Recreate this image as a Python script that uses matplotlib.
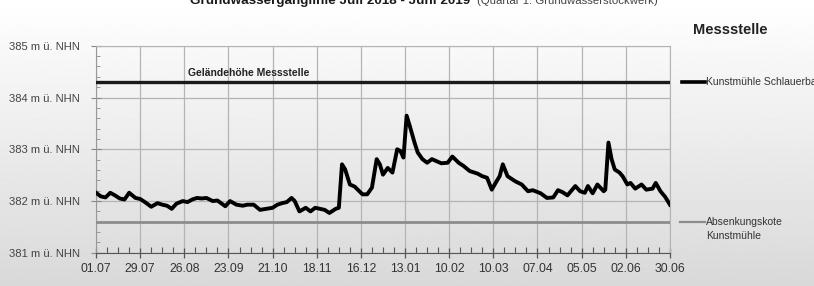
import numpy as np
import matplotlib
matplotlib.use("Agg")
import matplotlib.pyplot as plt
import matplotlib.dates as mdates
from matplotlib.ticker import FixedLocator, MultipleLocator, FuncFormatter

plt.rcParams['font.family'] = ['Liberation Sans', 'DejaVu Sans']

# Tage ab 01.07.2018 und Grundwasserstand (m ü. NHN)
tage = [0, 3, 6, 9, 12, 15, 18, 21, 25, 28,
        31, 35, 39, 42, 45, 48, 51, 55, 58, 61,
        64, 67, 70, 74, 77, 82, 85, 89, 93, 96,
        100, 104, 108, 112, 115, 118, 121, 124, 126, 129,
        133, 136, 139, 142, 145, 148, 152, 154, 156, 158,
        161, 164, 169, 172, 175, 178, 180, 182, 185, 188,
        191, 193, 195, 197, 199, 202, 204, 207, 210, 213,
        216, 219, 223, 226, 230, 233, 237, 242, 245, 248,
        251, 254, 256, 258, 261, 266, 270, 274, 277, 282,
        286, 290, 293, 296, 299, 304, 307, 310, 312, 315,
        318, 322, 323, 325, 327, 329, 332, 334, 337, 339,
        342, 346, 349, 353, 355, 358, 361, 364]
pegel = [382.16, 382.09, 382.07, 382.16, 382.11, 382.05, 382.03, 382.16, 382.06, 382.04,
         381.98, 381.89, 381.96, 381.93, 381.91, 381.85, 381.95, 382.00, 381.98, 382.03,
         382.06, 382.05, 382.06, 382.00, 382.01, 381.90, 382.00, 381.93, 381.91, 381.93,
         381.93, 381.83, 381.85, 381.87, 381.93, 381.96, 381.98, 382.06, 382.00, 381.80,
         381.87, 381.80, 381.87, 381.85, 381.83, 381.77, 381.85, 381.87, 382.71, 382.61,
         382.32, 382.28, 382.13, 382.13, 382.26, 382.81, 382.71, 382.51, 382.64, 382.55,
         383.00, 382.97, 382.84, 383.65, 383.45, 383.13, 382.94, 382.81, 382.74, 382.81,
         382.77, 382.73, 382.74, 382.86, 382.74, 382.68, 382.58, 382.53, 382.48, 382.45,
         382.22, 382.38, 382.48, 382.71, 382.48, 382.38, 382.32, 382.19, 382.21, 382.15,
         382.06, 382.07, 382.21, 382.17, 382.11, 382.29, 382.19, 382.16, 382.29, 382.15,
         382.32, 382.19, 382.22, 383.13, 382.81, 382.61, 382.55, 382.48, 382.32, 382.35,
         382.24, 382.32, 382.22, 382.24, 382.35, 382.19, 382.08, 381.93]
gelaendehoehe = 384.3
absenkungskote = 381.6
start = np.datetime64('2018-07-01')

datum = start + np.array(tage).astype('timedelta64[D]')

fig = plt.figure(figsize=(8.14, 2.86), dpi=100)

# Hintergrund mit Verlauf
bg = fig.add_axes([0, 0, 1, 1], zorder=-10)
verlauf = np.linspace(1.0, 0.85, 200).reshape(-1, 1)
bg.imshow(verlauf, cmap='gray', vmin=0, vmax=1, aspect='auto', extent=[0, 1, 0, 1])
bg.axis('off')

ax = fig.add_axes([0.118, 0.116, 0.705, 0.724])
ax.set_facecolor('none')

ax.plot(datum, pegel, color='black', lw=2.8, solid_joinstyle='round', zorder=4)
ax.axhline(gelaendehoehe, color='#1a1a1a', lw=2.4, zorder=3)
ax.axhline(absenkungskote, color='#8c8c8c', lw=2.0, zorder=3)

ax.set_ylim(381, 385)
ax.set_xlim(start, start + np.timedelta64(364, 'D'))

haupt = start + np.arange(0, 365, 28).astype('timedelta64[D]')
neben = start + np.arange(0, 365, 7).astype('timedelta64[D]')
ax.xaxis.set_major_locator(FixedLocator(mdates.date2num(haupt)))
ax.xaxis.set_minor_locator(FixedLocator(mdates.date2num(neben)))
ax.xaxis.set_major_formatter(mdates.DateFormatter('%d.%m'))
ax.yaxis.set_major_locator(MultipleLocator(1))
ax.yaxis.set_minor_locator(MultipleLocator(0.2))
ax.yaxis.set_major_formatter(FuncFormatter(lambda v, p: '%d m ü. NHN' % v))

ax.grid(True, which='major', color='#b4b4b4', lw=0.9)
ax.tick_params(axis='x', which='major', direction='inout', length=7, width=0.9,
               color='#555555', labelsize=8.8, labelcolor='#333333', pad=4)
ax.tick_params(axis='x', which='minor', direction='in', length=4, width=0.8,
               color='#555555')
ax.tick_params(axis='y', which='major', direction='inout', length=7, width=0.8,
               color='#888888', labelsize=8.1, labelcolor='#444444', pad=8)
ax.tick_params(axis='y', which='minor', direction='in', length=3, width=0.7,
               color='#999999')

for s in ['top', 'right']:
    ax.spines[s].set_color('#b4b4b4')
ax.spines['left'].set_color('#999999')
ax.spines['bottom'].set_color('#555555')

ax.text(0.16, gelaendehoehe + 0.07, 'Geländehöhe Messstelle',
        transform=ax.get_yaxis_transform(),
        fontsize=7.5, fontweight='bold', color='#222222', va='bottom')

# Titel (oben abgeschnitten)
fig.text(0.233, 0.986, 'Grundwasserganglinie Juli 2018 - Juni 2019', fontsize=9.7,
         fontweight='bold', color='#1a1a1a', va='baseline', ha='left')
fig.text(0.586, 0.986, '(Quartär 1. Grundwasserstockwerk)', fontsize=8.2,
         color='#444444', va='baseline', ha='left')

# Legende rechts
fig.text(0.851, 0.895, 'Messstelle', fontsize=10.5, fontweight='bold', color='#222222',
         va='center', ha='left')
fig.add_artist(plt.Line2D([0.838, 0.866], [0.713, 0.713], color='black', lw=2.6,
                          transform=fig.transFigure))
fig.text(0.867, 0.713, 'Kunstmühle Schlauerbach', fontsize=7.5, color='#333333',
         va='center', ha='left')
fig.add_artist(plt.Line2D([0.835, 0.866], [0.224, 0.224], color='#8c8c8c', lw=1.6,
                          transform=fig.transFigure))
fig.text(0.867, 0.224, 'Absenkungskote', fontsize=7.5, color='#333333',
         va='center', ha='left')
fig.text(0.867, 0.176, 'Kunstmühle', fontsize=7.5, color='#333333',
         va='center', ha='left')

fig.savefig('out.png', dpi=100)
